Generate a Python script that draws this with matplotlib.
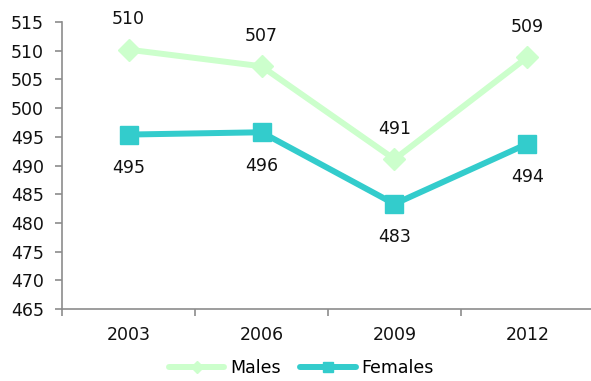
import matplotlib
matplotlib.use("Agg")
import matplotlib.pyplot as plt
import numpy as np

years = ["2003", "2006", "2009", "2012"]
males = [510.2, 507.3, 491.1, 508.9]
females = [495.4, 495.8, 483.3, 493.8]

green = "#CCFFCC"
teal = "#33CCCC"

plt.rcParams["font.family"] = ["Verdana", "DejaVu Sans"]

fig = plt.figure(figsize=(5.91, 3.81), dpi=100)
ax = fig.add_axes([0.105, 0.189, 0.9, 0.753])

x = np.arange(len(years))
ax.plot(x, males, color=green, lw=4.3, marker="D", ms=11, label="Males",
        solid_capstyle="round")
ax.plot(x, females, color=teal, lw=4.3, marker="s", ms=12.5, label="Females",
        solid_capstyle="round")

for xi, v in zip(x, males):
    ax.annotate(f"{round(v)}", (xi, v), xytext=(0, 22), textcoords="offset points",
                ha="center", va="center", fontsize=12.5, color="#111111")
for xi, v in zip(x, females):
    ax.annotate(f"{round(v)}", (xi, v), xytext=(0, -24), textcoords="offset points",
                ha="center", va="center", fontsize=12.5, color="#111111")

ax.set_ylim(465, 515)
ax.set_yticks(np.arange(465, 516, 5))
ax.set_xlim(-0.5, 3.5)
ax.set_xticks(x)
ax.set_xticklabels(years)
ax.set_xticks(np.arange(-0.5, 4, 1), minor=True)

for s in ["top", "right"]:
    ax.spines[s].set_visible(False)
for s in ["left", "bottom"]:
    ax.spines[s].set_color("#8c8c8c")
    ax.spines[s].set_linewidth(1.2)

ax.tick_params(axis="y", length=5, width=1.2, color="#8c8c8c", labelsize=12.5,
               pad=8, labelcolor="#111111")
ax.tick_params(axis="x", which="major", length=0, labelsize=12.5, pad=12,
               labelcolor="#111111")
ax.tick_params(axis="x", which="minor", length=5, width=1.2, color="#8c8c8c")

leg = ax.legend(loc="center", bbox_to_anchor=(0.45, -0.205), ncol=2,
                frameon=False, fontsize=12.5, handlelength=3.2,
                columnspacing=1.1, handletextpad=0.35, markerscale=0.55)

fig.savefig("out.png", dpi=100)
